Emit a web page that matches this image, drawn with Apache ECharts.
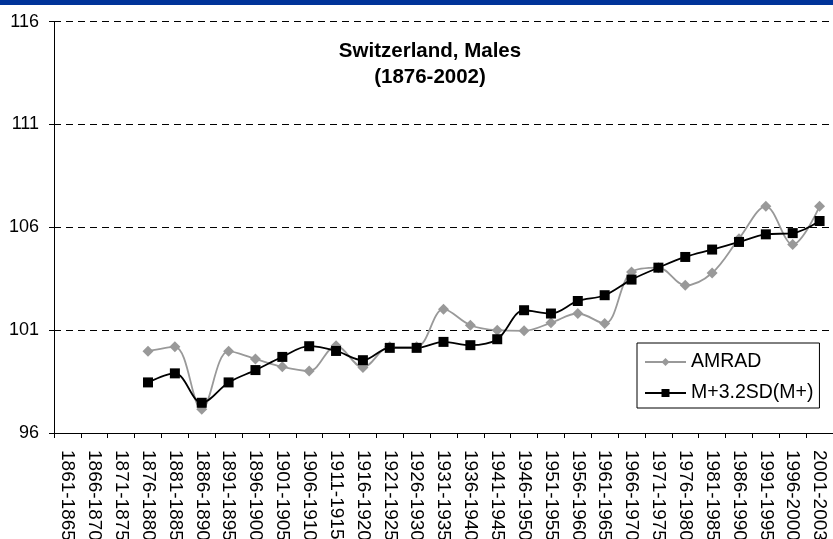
<!DOCTYPE html>
<html><head><meta charset="utf-8">
<script src="https://cdn.jsdelivr.net/npm/echarts@6/dist/echarts.min.js"></script>
<style>html,body{margin:0;padding:0;background:#fff;overflow:hidden}#c{width:833px;height:539px}</style>
</head><body><div id="c"></div>
<script>
const categories = ['1861-1865','1866-1870','1871-1875','1876-1880','1881-1885','1886-1890','1891-1895','1896-1900','1901-1905','1906-1910','1911-1915','1916-1920','1921-1925','1926-1930','1931-1935','1936-1940','1941-1945','1946-1950','1951-1955','1956-1960','1961-1965','1966-1970','1971-1975','1976-1980','1981-1985','1986-1990','1991-1995','1996-2000','2001-2003'];
const amrad = [null,null,null,99.98,100.19,97.15,99.98,99.6,99.22,99.02,100.24,99.19,100.19,100.19,102.02,101.24,101.0,100.97,101.36,101.81,101.32,103.83,104.04,103.18,103.78,105.45,107.02,105.17,107.02];
const msd = [null,null,null,98.46,98.9,97.47,98.46,99.06,99.7,100.22,99.99,99.54,100.14,100.14,100.43,100.27,100.56,101.97,101.81,102.42,102.7,103.46,104.04,104.56,104.92,105.29,105.66,105.72,106.31];
const yTicks = {min:96, max:116, interval:5};
const chart = echarts.init(document.getElementById('c'));
const font = 'Liberation Sans, Arial, sans-serif';
chart.setOption({
  animation:false,
  graphic:[{type:'rect', left:0, top:0, shape:{width:833, height:5}, style:{fill:'#003399'}, silent:true}],
  title:{text:'Switzerland, Males\n(1876-2002)', left:430, top:38, textAlign:'center', padding:0,
    textStyle:{fontFamily:font, fontSize:20.5, fontWeight:'bold', color:'#000', lineHeight:26}},
  grid:{left:54, right:0, top:21.7, bottom:106, containLabel:false, outerBoundsMode:'none'},
  legend:{orient:'vertical', left:637, top:343, padding:[9,6,5,7], itemGap:11,
    borderColor:'#000', borderWidth:1, itemWidth:41, itemHeight:10,
    textStyle:{fontFamily:font, fontSize:19.5, color:'#000', lineHeight:20, padding:[0,0,0,0]},
    data:['AMRAD','M+3.2SD(M+)']},
  xAxis:{type:'category', data:categories, boundaryGap:true,
    axisLine:{lineStyle:{color:'#000', width:1}},
    axisTick:{show:true, alignWithLabel:false, length:5, lineStyle:{color:'#000'}},
    axisLabel:{rotate:-90, interval:0, fontFamily:font, fontSize:19, color:'#000', margin:17}},
  yAxis:{type:'value', min:yTicks.min, max:yTicks.max, interval:yTicks.interval,
    axisLine:{show:true, lineStyle:{color:'#000'}},
    axisTick:{show:true, length:5, lineStyle:{color:'#000'}},
    axisLabel:{fontFamily:font, fontSize:18, color:'#000', margin:15},
    splitLine:{show:true, lineStyle:{color:'#000', type:[7,5], width:1}}},
  series:[
    {name:'AMRAD', type:'line', data:amrad, smooth:0.35, symbol:'diamond', symbolSize:11,
      itemStyle:{color:'#999999'}, lineStyle:{color:'#999999', width:1.8}},
    {name:'M+3.2SD(M+)', type:'line', data:msd, smooth:0.35, symbol:'rect', symbolSize:10,
      itemStyle:{color:'#000'}, lineStyle:{color:'#000', width:1.8}, z:3}
  ]
});
</script></body></html>
